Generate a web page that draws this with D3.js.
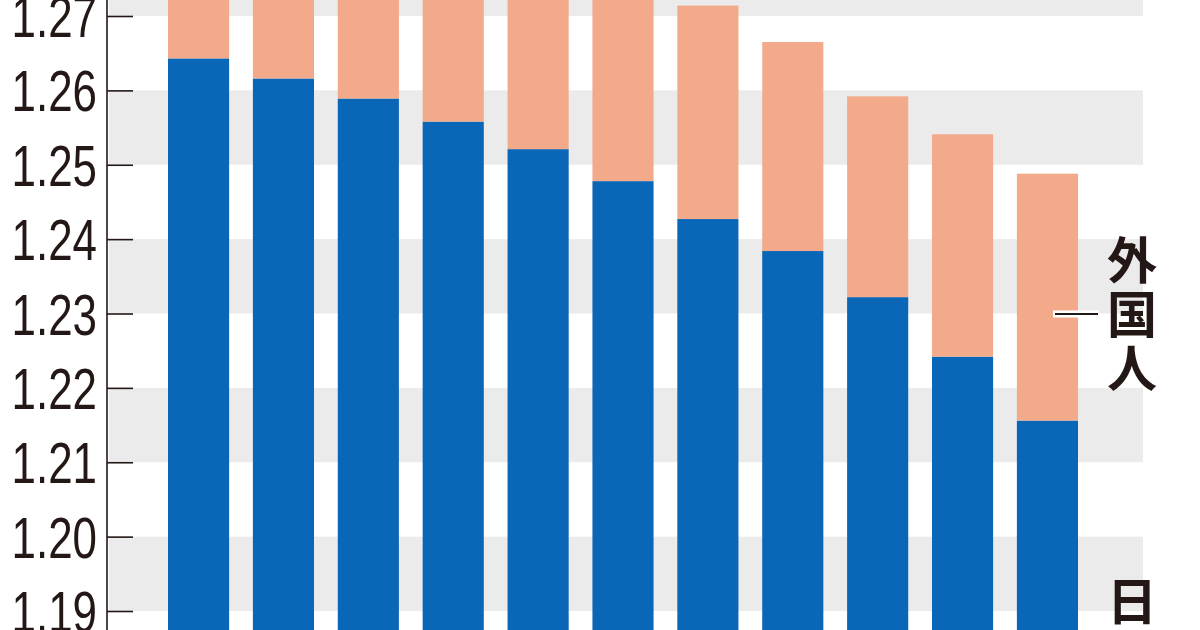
<!DOCTYPE html>
<html><head><meta charset="utf-8">
<script src="https://cdn.jsdelivr.net/npm/d3@7"></script>
<style>html,body{margin:0;padding:0;background:#fff;overflow:hidden}</style>
</head><body>
<svg id="c" width="1200" height="630"></svg>
<script>
// Data (units: 100 million people), years off-screen in the crop
const categories = ["2014","2015","2016","2017","2018","2019","2020","2021","2022","2023","2024"];
const japanese = [1.2643, 1.2616, 1.2589, 1.2558, 1.2521, 1.2478, 1.2427, 1.2384, 1.2322, 1.2242, 1.2156];
const foreign  = [0.0206, 0.0212, 0.0223, 0.0239, 0.0256, 0.0276, 0.0287, 0.0281, 0.0270, 0.0299, 0.0332];
const tickValues = [1.19, 1.20, 1.21, 1.22, 1.23, 1.24, 1.25, 1.26, 1.27];
const tickLabels = ["1.19","1.20","1.21","1.22","1.23","1.24","1.25","1.26","1.27"];
const bandStarts = [1.19, 1.21, 1.23, 1.25, 1.27];
const seriesLabels = ["外国人", "日本人"];

const W = 1200, H = 630;
const svg = d3.select("#c");
const axisX = 107;

const y = d3.scaleLinear().domain([1.19, 1.27]).range([611, 16]);
const x = d3.scaleBand().domain(categories).range([168, 1078]).paddingInner(0.28).paddingOuter(0);

const blue = "#0a66b7", salmon = "#f2aa8b", grey = "#ebebeb", ink = "#231815";

// grey bands
svg.append("g").selectAll("rect").data(bandStarts).join("rect")
  .attr("x", axisX + 2).attr("width", 1143 - axisX - 2)
  .attr("y", d => y(d + 0.01)).attr("height", d => y(d) - y(d + 0.01))
  .attr("fill", grey);

// bars
const data = categories.map((c, i) => ({c, jp: japanese[i], fo: foreign[i]}));
const bottom = H + 20;
svg.append("g").selectAll("rect").data(data).join("rect")
  .attr("x", d => x(d.c)).attr("width", x.bandwidth())
  .attr("y", d => y(d.jp)).attr("height", d => bottom - y(d.jp))
  .attr("fill", blue);
svg.append("g").selectAll("rect").data(data).join("rect")
  .attr("x", d => x(d.c)).attr("width", x.bandwidth())
  .attr("y", d => y(d.jp + d.fo)).attr("height", d => y(d.jp) - y(d.jp + d.fo))
  .attr("fill", salmon);

// axis
const axis = d3.axisLeft(y).tickValues(tickValues).tickFormat((d, i) => tickLabels[i])
  .tickSizeInner(-26).tickSizeOuter(0).tickPadding(10);
const ga = svg.append("g").attr("transform", `translate(${axisX},0)`).call(axis);
ga.select(".domain").remove();
ga.selectAll(".tick line").attr("stroke", ink).attr("stroke-width", 1.6);
ga.selectAll(".tick text")
  .attr("fill", ink)
  .attr("x", 0)
  .attr("transform", "translate(-10,0) scale(0.77,1)")
  .style("font-family", "'Liberation Sans', Arial, sans-serif")
  .style("font-size", "57px")
  .attr("dy", "0.36em");
svg.append("line").attr("x1", axisX).attr("x2", axisX).attr("y1", 0).attr("y2", H)
  .attr("stroke", ink).attr("stroke-width", 1.6);

// series labels (vertical)
const labelX = 1132, pitch = 54;
const lab = svg.append("g").style("font-family", "'Noto Sans CJK JP', sans-serif")
  .style("font-size", "50px").style("font-weight", "bold").attr("fill", ink).attr("text-anchor", "middle");
Array.from(seriesLabels[0]).forEach((ch, i) => {
  lab.append("text").attr("x", labelX).attr("y", 261 + i * pitch).attr("dy", "0.36em").text(ch);
});
Array.from(seriesLabels[1]).forEach((ch, i) => {
  lab.append("text").attr("x", labelX).attr("y", 602 + i * pitch).attr("dy", "0.36em").text(ch);
});
// leader line for foreign
const ly = 314;
svg.append("line").attr("x1", 1053).attr("x2", 1099).attr("y1", ly).attr("y2", ly)
  .attr("stroke", "#fff").attr("stroke-width", 7);
svg.append("line").attr("x1", 1055).attr("x2", 1098).attr("y1", ly).attr("y2", ly)
  .attr("stroke", ink).attr("stroke-width", 2.2);
</script>
</body></html>
